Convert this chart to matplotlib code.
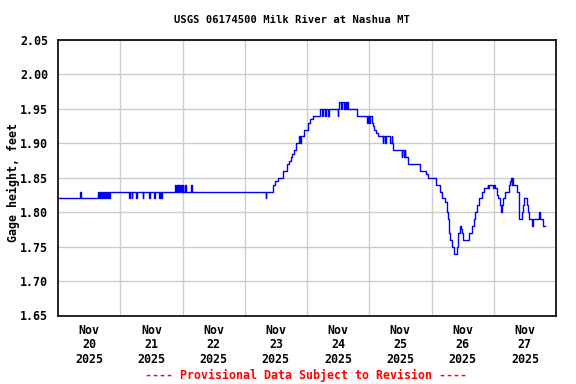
import matplotlib
matplotlib.use("Agg")
import matplotlib.pyplot as plt
import matplotlib.dates as mdates
import pandas as pd

TITLE = "USGS 06174500 Milk River at Nashua MT"
YLABEL = "Gage height, feet"
FOOTER = "---- Provisional Data Subject to Revision ----"
START = "2025-11-20 00:00"

# hours since Nov 20 00:00 at which the gage height changes, and the new value
hours = [0.0, 8.58, 8.83, 15.27, 15.65, 16.1, 16.4, 17.0, 17.3, 17.75, 18.05,
         18.5, 18.9, 19.2, 19.7, 20.0,
         27.5, 27.8, 28.4, 28.65, 30.1, 30.35, 32.65, 32.9, 35.25, 35.5,
         37.2, 37.45, 38.9, 39.15, 39.7, 39.95,
         45.3, 45.55, 45.95, 46.2, 46.45, 46.7, 46.85, 47.1, 47.2, 47.45,
         47.7, 47.95, 48.1, 48.35, 49.15, 49.4, 51.35, 51.6,
         80.1, 80.35,
         82.9, 83.8, 84.8, 86.8, 88.3, 89.0, 89.7, 90.4, 91.0, 91.7, 92.9,
         93.3, 93.6, 94.9, 96.4, 97.1, 98.4, 100.9, 101.8, 102.05, 102.9,
         103.15, 104.2, 104.45,
         107.8, 108.05, 108.3, 109.1, 109.35, 110.3, 110.55, 111.0, 111.25,
         111.65, 115.1,
         119.0, 119.5, 120.0, 120.3, 120.9, 121.4, 121.9, 122.6, 123.5,
         125.2, 125.45, 126.1, 126.35, 128.0, 128.6, 128.85, 129.3,
         132.5, 132.75, 133.4, 133.65, 133.8, 135.1,
         139.6, 141.9, 142.6, 145.8, 147.3, 148.2, 149.3, 149.9, 150.3,
         150.6, 150.9, 151.3, 151.8, 152.5, 153.8, 154.1, 154.4, 154.8,
         155.3, 155.6, 156.1, 158.6, 159.6, 160.2, 160.9, 161.5, 162.2,
         163.4, 164.4, 165.6, 165.9, 166.1, 167.8, 168.0, 168.6, 169.2,
         169.7, 170.3, 170.8, 171.0, 171.7, 172.5, 173.7, 174.4, 174.8,
         175.0, 175.2, 175.4, 177.0, 177.6, 177.8, 178.9, 179.2, 179.5,
         180.8, 181.3, 181.7, 182.8, 183.2, 185.6, 185.9, 186.9, 187.6]
values = [1.82, 1.83, 1.82, 1.83, 1.82, 1.83, 1.82, 1.83, 1.82, 1.83, 1.82,
          1.83, 1.82, 1.83, 1.82, 1.83,
          1.82, 1.83, 1.82, 1.83, 1.82, 1.83, 1.82, 1.83, 1.82, 1.83,
          1.82, 1.83, 1.82, 1.83, 1.82, 1.83,
          1.84, 1.83, 1.84, 1.83, 1.84, 1.83, 1.84, 1.83, 1.84, 1.83,
          1.84, 1.83, 1.84, 1.83, 1.84, 1.83, 1.84, 1.83,
          1.82, 1.83,
          1.84, 1.845, 1.85, 1.86, 1.87, 1.875, 1.88, 1.885, 1.89, 1.90, 1.91,
          1.90, 1.91, 1.92, 1.93, 1.935, 1.94, 1.95, 1.94, 1.95, 1.94,
          1.95, 1.94, 1.95,
          1.94, 1.95, 1.96, 1.95, 1.96, 1.95, 1.96, 1.95, 1.96,
          1.95, 1.94,
          1.93, 1.94, 1.93, 1.94, 1.93, 1.925, 1.92, 1.915, 1.91,
          1.90, 1.91, 1.90, 1.91, 1.90, 1.91, 1.90, 1.89,
          1.88, 1.89, 1.88, 1.89, 1.88, 1.87,
          1.86, 1.855, 1.85, 1.84, 1.83, 1.82, 1.815, 1.80, 1.79,
          1.785, 1.77, 1.76, 1.75, 1.74, 1.75, 1.76, 1.77, 1.78,
          1.775, 1.77, 1.76, 1.77, 1.78, 1.79, 1.80, 1.81, 1.82,
          1.83, 1.835, 1.84, 1.835, 1.84, 1.835, 1.84, 1.835, 1.825,
          1.82, 1.81, 1.80, 1.81, 1.82, 1.83, 1.84, 1.845, 1.85,
          1.84, 1.85, 1.84, 1.83, 1.80, 1.79, 1.80, 1.81, 1.82,
          1.81, 1.80, 1.79, 1.78, 1.79, 1.80, 1.79, 1.78, 1.78]

yticks = [1.65, 1.70, 1.75, 1.80, 1.85, 1.90, 1.95, 2.00, 2.05]
day_labels = ["Nov\n20\n2025", "Nov\n21\n2025", "Nov\n22\n2025", "Nov\n23\n2025",
              "Nov\n24\n2025", "Nov\n25\n2025", "Nov\n26\n2025", "Nov\n27\n2025"]

start = pd.Timestamp(START)
times = start + pd.to_timedelta(hours, unit="h")
days = pd.date_range(start, periods=9, freq="D")
noons = days[:-1] + pd.Timedelta(hours=12)

mono = "DejaVu Sans Mono"
fig = plt.figure(figsize=(5.76, 3.84), dpi=100)
ax = fig.add_axes([58 / 576, 1 - 315.5 / 384, 498 / 576, 275.5 / 384])

ax.plot(times, values, color="#0000FF", lw=1.0, drawstyle="steps-post")

ax.set_xlim(days[0], days[-1])
ax.set_ylim(1.65, 2.05)
ax.set_yticks(yticks)
ax.set_yticklabels([f"{v:.2f}" for v in yticks], fontfamily=mono,
                   fontweight="bold", fontsize=8.4)
ax.set_xticks(noons)
ax.set_xticklabels(day_labels, fontfamily=mono, fontweight="bold",
                   fontsize=8.4, linespacing=1.15)
ax.set_xticks(days[1:-1], minor=True)
ax.tick_params(axis="both", which="both", length=0)
ax.tick_params(axis="y", pad=7)
ax.tick_params(axis="x", pad=6)
ax.grid(False)
ax.grid(True, axis="y", color="#CCCCCC", lw=1.0)
ax.grid(True, axis="x", which="minor", color="#CCCCCC", lw=1.0)
ax.set_axisbelow(True)
for s in ax.spines.values():
    s.set_color("black")
    s.set_linewidth(1.2)

fig.text(292 / 576, 1 - 20 / 384, TITLE, ha="center", va="center",
         fontfamily=mono, fontweight="bold", fontsize=7.6)
fig.text(13 / 576, 1 - 183 / 384, YLABEL, ha="center", va="center",
         rotation=90, fontfamily=mono, fontweight="bold", fontsize=8.4)
fig.text(306 / 576, 1 - 375 / 384, FOOTER, ha="center", va="center",
         color="red", fontfamily=mono, fontweight="bold", fontsize=8.4)

fig.savefig("out.png", dpi=100)
